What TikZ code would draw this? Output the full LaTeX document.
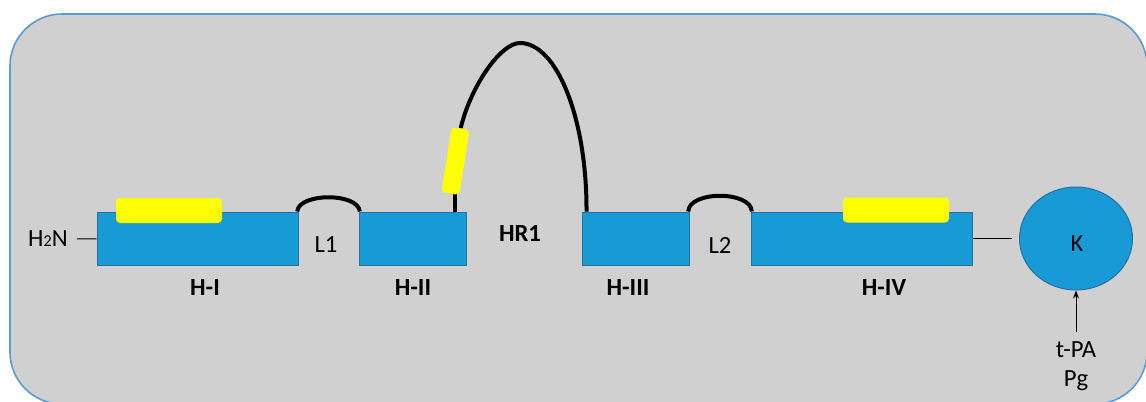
\documentclass[tikz,border=0pt]{standalone}
\usepackage{fontspec}
\setmainfont{Carlito}
\usetikzlibrary{shapes.geometric,arrows.meta}
\definecolor{bgray}{RGB}{208,208,208}
\definecolor{frameblue}{RGB}{91,155,213}
\definecolor{helixblue}{RGB}{24,154,214}
\definecolor{helixedge}{RGB}{36,112,160}
\definecolor{hydro}{RGB}{255,255,0}
\pgfdeclarelayer{backdrop}
\pgfdeclarelayer{strands}
\pgfsetlayers{backdrop,strands,main}

\begin{document}
\begin{tikzpicture}[x=0.75pt,y=-0.75pt,
  helix/.style={draw=helixedge,fill=helixblue,line width=0.75pt,inner sep=0pt,minimum height=39.75pt},
  hpatch/.style={fill=hydro,rounded corners=3pt,inner sep=0pt,minimum width=79.5pt,minimum height=18.75pt},
  loopline/.style={line width=3pt,black},
  bond/.style={line width=0.75pt,black},
  lbl/.style={font=\fontsize{18.5}{22}\selectfont,text=black,inner sep=0pt},
  blbl/.style={lbl,font=\fontsize{18.5}{22}\selectfont\bfseries}]

\useasboundingbox (0,0) rectangle (1146,401);

% panel
\begin{pgfonlayer}{backdrop}
  \draw[fill=bgray,draw=frameblue,line width=1.2pt,rounded corners=39pt]
    (10,14) rectangle (1147,404);
\end{pgfonlayer}

% helices and kringle domain
\node[helix,minimum width=150.75pt] (h1) at (197.5,238.5) {};
\node[helix,minimum width=80.25pt]  (h2) at (412.5,238.5) {};
\node[helix,minimum width=80.25pt]  (h3) at (635.5,238.5) {};
\node[helix,minimum width=165.75pt] (h4) at (861.5,238.5) {};
\node[ellipse,draw=helixedge,fill=helixblue,line width=0.75pt,inner sep=0pt,
      minimum width=84.75pt,minimum height=77.25pt] (k) at (1076,238.5) {};

% hydrophobic patches
\node[hpatch] (p1) at (169,210.5) {};
\node[hpatch] (p4) at (896,210) {};
\node[hpatch,minimum width=13.5pt,minimum height=49.5pt,rotate=-9] (p2) at (455.5,161) {};

% loops
\begin{pgfonlayer}{strands}
  \draw[loopline] ([xshift=-1pt]h1.north east) .. controls +(2,-19) and +(-2,-19) .. ([xshift=1pt]h2.north west);
  \draw[loopline] ([xshift=-1pt]h3.north east) .. controls +(1,-21) and +(-1,-21) .. ([xshift=1pt]h4.north west);
  \draw[loopline] ([xshift=-9pt]h2.north east) -- ++(0,-30);
  \draw[loopline] (p2.north) .. controls (470,88) and (500,43) .. (520,43)
                   .. controls (557,43) and (587,119) .. ([xshift=3.75pt]h3.north west);
\end{pgfonlayer}

% labels
\node[lbl] (h2n) at (48,239) {H{\fontsize{12.5}{13}\selectfont 2}N};
\node[lbl] (l1) at (326,245) {L1};
\node[lbl] (l2) at (720,245) {L2};
\node[blbl] (hr1) at (520,233.5) {HR1};
\node[blbl] (h1lab) at (205,287) {H-I};
\node[blbl] (h2lab) at (413,287) {H-II};
\node[blbl] (h3lab) at (628,287) {H-III};
\node[blbl] (h4lab) at (884,287) {H-IV};
\node[lbl] (klab) at (1077,244) {K};
\node[lbl,anchor=base] (tpa) at (1076,357) {t-PA};
\node[lbl,anchor=base] (pg) at (1076,386) {Pg};

% connectors
\draw[bond,shorten <=6.5pt] (h2n) -- (h1);
\draw[bond,shorten >=5pt] (h4) -- (k);
\draw[bond,-{Stealth[length=6pt,width=4.5pt]}] ([yshift=7pt]tpa.north) -- (k.south);
\end{tikzpicture}
\end{document}
